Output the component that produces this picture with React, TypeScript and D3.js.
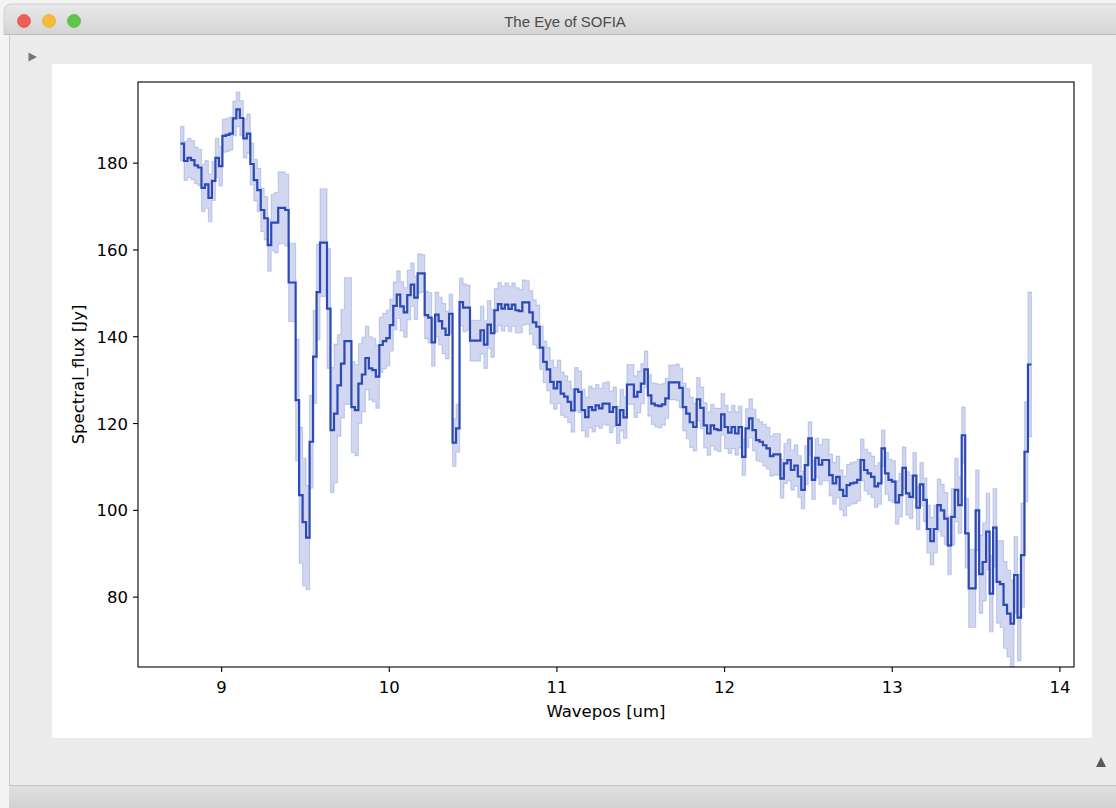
import React from 'react';
import * as d3 from 'd3';

const WAVE_START = 8.755;
const WAVE_STEP = 0.0208;

const FLUX = [
  184.5, 180.5, 181.2, 180.7, 179.5, 179.0, 174.3, 175.1, 172.0, 175.9,
  181.2, 179.3, 186.3, 186.5, 186.8, 190.3, 192.4, 190.4, 185.7, 186.8,
  179.8, 176.1, 173.8, 169.2, 167.3, 161.1, 166.3, 166.3, 169.7, 169.7,
  169.2, 152.5, 152.5, 125.4, 103.5, 97.3, 93.7, 115.8, 135.4, 150.3,
  161.7, 161.7, 146.5, 118.5, 122.3, 128.8, 133.8, 139.0, 139.0, 123.8,
  123.1, 129.2, 131.3, 135.1, 132.7, 132.3, 130.8, 138.1, 139.0, 139.7,
  142.7, 147.1, 149.7, 147.0, 145.6, 149.6, 152.0, 149.0, 154.6, 154.6,
  145.0, 144.4, 138.7, 145.1, 143.6, 141.9, 140.4, 145.3, 115.6, 118.9,
  148.0, 146.7, 146.7, 139.1, 139.1, 139.1, 141.5, 138.2, 142.8, 140.8,
  146.1, 147.5, 146.5, 147.4, 146.4, 147.4, 146.1, 145.9, 147.9, 147.9,
  145.6, 143.3, 142.3, 137.5, 134.2, 132.5, 129.6, 128.1, 129.6, 126.9,
  126.2, 125.0, 123.0, 127.9, 127.3, 123.1, 121.5, 123.8, 123.1, 124.2,
  123.5, 124.6, 124.6, 122.7, 123.8, 119.7, 123.1, 121.4, 129.0, 129.0,
  126.2, 127.3, 129.2, 132.5, 126.5, 124.6, 124.2, 124.0, 124.4, 125.8,
  129.5, 129.5, 129.5, 128.2, 123.8, 122.3, 120.3, 119.2, 125.6, 123.6,
  119.6, 117.7, 119.6, 118.7, 118.5, 122.1, 119.2, 117.9, 119.2, 117.7,
  119.2, 112.3, 118.9, 121.2, 118.5, 116.2, 115.8, 115.0, 114.3, 112.5,
  112.9, 112.9, 107.3, 110.8, 111.6, 109.3, 110.3, 107.8, 104.7, 110.4,
  116.6, 107.0, 112.1, 110.5, 111.6, 111.6, 108.1, 106.2, 107.7, 104.7,
  103.3, 105.8, 106.2, 106.4, 107.0, 111.6, 109.3, 108.5, 107.7, 105.5,
  106.2, 114.3, 108.5, 107.0, 106.6, 101.8, 103.5, 109.8, 103.9, 103.1,
  108.0, 100.6, 106.0, 102.4, 95.7, 92.9, 95.7, 101.2, 100.0, 98.1,
  91.9, 98.5, 104.7, 101.2, 117.3, 94.7, 82.0, 82.0, 100.0, 85.3,
  88.1, 95.1, 80.8, 96.0, 83.5, 83.0, 78.2, 76.2, 73.9, 85.1,
  75.3, 89.7, 113.5, 133.6,
];

const FLUX_ERR = [
  4.0, 4.5, 4.5, 4.5, 4.2, 4.2, 5.5, 5.5, 5.5, 4.5,
  4.5, 4.5, 3.8, 3.8, 3.8, 4.0, 4.0, 4.0, 4.5, 4.5,
  4.8, 4.8, 5.0, 5.0, 5.0, 6.0, 6.5, 7.0, 8.3, 8.3,
  8.3, 9.0, 9.0, 14.0, 15.7, 14.7, 12.0, 10.7, 10.7, 11.0,
  12.4, 12.4, 13.8, 14.4, 16.0, 11.7, 12.5, 14.6, 14.6, 10.5,
  10.5, 9.2, 8.6, 7.3, 7.3, 7.3, 7.3, 6.4, 6.4, 6.4,
  6.0, 5.5, 5.5, 5.7, 5.7, 5.7, 5.0, 5.0, 4.5, 4.3,
  5.5, 5.8, 5.5, 5.2, 5.5, 5.8, 5.5, 4.5, 5.5, 5.5,
  5.5, 5.5, 5.2, 4.7, 4.7, 4.7, 5.5, 5.5, 5.5, 5.5,
  5.0, 5.0, 5.2, 5.0, 5.2, 5.0, 5.2, 5.0, 5.2, 5.0,
  5.0, 5.2, 5.0, 5.0, 4.8, 5.0, 5.0, 4.8, 5.0, 5.0,
  4.8, 4.8, 5.0, 5.0, 4.8, 4.8, 4.6, 4.8, 5.0, 4.8,
  4.6, 4.8, 5.0, 4.8, 4.6, 4.3, 4.8, 4.8, 4.6, 4.6,
  4.8, 4.8, 4.6, 4.2, 4.8, 4.8, 5.0, 5.0, 4.8, 4.6,
  4.0, 4.0, 4.2, 4.6, 5.5, 5.8, 5.8, 5.5, 5.0, 4.8,
  5.2, 5.0, 4.8, 4.8, 5.0, 4.8, 5.0, 4.8, 5.0, 5.0,
  4.8, 4.2, 4.5, 4.5, 4.8, 4.8, 4.6, 4.8, 4.8, 4.6,
  4.8, 4.8, 4.5, 4.6, 4.8, 4.6, 4.8, 4.8, 4.3, 4.5,
  3.8, 4.5, 4.5, 4.6, 4.8, 4.8, 4.8, 4.8, 4.8, 4.6,
  4.6, 4.8, 4.8, 4.8, 4.8, 4.8, 4.8, 4.8, 4.8, 4.8,
  4.8, 4.2, 4.8, 4.8, 4.8, 5.0, 5.0, 4.8, 5.0, 5.0,
  5.3, 5.0, 5.0, 5.0, 5.5, 5.5, 5.5, 6.0, 6.0, 6.0,
  6.7, 6.5, 7.3, 6.5, 6.5, 8.0, 9.0, 9.0, 9.3, 9.0,
  9.0, 8.8, 8.8, 9.0, 9.5, 10.0, 10.0, 10.0, 10.0, 8.8,
  10.0, 12.0, 11.5, 16.7,
];

const X_TICKS = [9, 10, 11, 12, 13, 14];
const Y_TICKS = [80, 100, 120, 140, 160, 180];
const Y_DOMAIN = [63.9, 198.7];
const WINDOW_TITLE = 'The Eye of SOFIA';
const X_LABEL = 'Wavepos [um]';
const Y_LABEL = 'Spectral_flux [Jy]';

const LINE_COLOR = '#2d49b3';
const AXIS_FONT = '"DejaVu Sans", Verdana, sans-serif';
const UI_FONT = '"Liberation Sans", Arial, Helvetica, sans-serif';

type Row = { w: number; f: number; e: number };

export default function App() {
  const W = 1116;
  const H = 808;
  const plot = { left: 138, top: 82, right: 1074, bottom: 667 };

  const rows: Row[] = FLUX.map((f, i) => ({ w: WAVE_START + i * WAVE_STEP, f, e: FLUX_ERR[i] }));
  const wEnd = WAVE_START + FLUX.length * WAVE_STEP;
  const last = rows[rows.length - 1];
  const pts: Row[] = [...rows, { w: wEnd, f: last.f, e: last.e }];
  const span = wEnd - WAVE_START;

  const x = d3
    .scaleLinear()
    .domain([WAVE_START - 0.05 * span, wEnd + 0.05 * span])
    .range([plot.left, plot.right]);
  const y = d3.scaleLinear().domain(Y_DOMAIN).range([plot.bottom, plot.top]);

  const line = d3
    .line<Row>()
    .x((d) => x(d.w))
    .y((d) => y(d.f))
    .curve(d3.curveStepAfter);
  const area = d3
    .area<Row>()
    .x((d) => x(d.w))
    .y0((d) => y(d.f - d.e))
    .y1((d) => y(d.f + d.e))
    .curve(d3.curveStepAfter);

  const tickLen = 5;
  const fs = 16.5;

  return (
    <svg
      width={W}
      height={H}
      viewBox={`0 0 ${W} ${H}`}
      style={{ position: 'absolute', left: 0, top: 0, display: 'block' }}
    >
      <defs>
        <linearGradient id="titlebar" x1="0" y1="0" x2="0" y2="1">
          <stop offset="0" stopColor="#e9e9e9" />
          <stop offset="1" stopColor="#d4d4d4" />
        </linearGradient>
        <linearGradient id="statusbar" x1="0" y1="0" x2="0" y2="1">
          <stop offset="0" stopColor="#e0e0e0" />
          <stop offset="1" stopColor="#d2d2d2" />
        </linearGradient>
        <clipPath id="plotclip">
          <rect x={plot.left} y={plot.top} width={plot.right - plot.left} height={plot.bottom - plot.top} />
        </clipPath>
      </defs>

      {/* outside of window */}
      <rect x={0} y={0} width={W} height={H} fill="#f4f4f4" />
      {/* window body */}
      <rect x={9} y={30} width={W - 9} height={H - 30} fill="#ececec" />
      <line x1={9.5} y1={34} x2={9.5} y2={786} stroke="#c9c9c9" strokeWidth={1} />
      {/* title bar */}
      <path d={`M 4 35 L 4 12 Q 4 4 12 4 L ${W} 4 L ${W} 35 Z`} fill="url(#titlebar)" />
      <path d={`M 4 35 L 4 12 Q 4 4 12 4 L ${W} 4`} fill="none" stroke="#cfcfcf" strokeWidth={1} />
      <line x1={4} y1={34.5} x2={W} y2={34.5} stroke="#bdbdbd" strokeWidth={1} />
      <circle cx={24} cy={21} r={6.5} fill="#ee5e57" stroke="#d8463f" strokeWidth={0.6} />
      <circle cx={49} cy={21} r={6.5} fill="#f7bd32" stroke="#dba126" strokeWidth={0.6} />
      <circle cx={74} cy={21} r={6.5} fill="#5ec748" stroke="#45ad33" strokeWidth={0.6} />
      <text x={565} y={27} textAnchor="middle" fontFamily={UI_FONT} fontSize={15} fill="#4b4b4b">
        {WINDOW_TITLE}
      </text>

      {/* disclosure triangle */}
      <polygon points="28.5,52.5 37,57 28.5,61.5" fill="#777777" />

      {/* white figure panel */}
      <rect x={52} y={64} width={1040} height={674} fill="#ffffff" />

      {/* status bar */}
      <line x1={9} y1={785.5} x2={W} y2={785.5} stroke="#c4c4c4" strokeWidth={1} />
      <rect x={9} y={786} width={W - 9} height={H - 786} fill="url(#statusbar)" />
      <polygon points="1096,767 1106,767 1101,757" fill="#5a5a5a" />

      {/* data */}
      <g clipPath="url(#plotclip)">
        <path
          d={area(pts) || ''}
          fill="rgba(45,75,185,0.22)"
          stroke="rgba(45,75,185,0.2)"
          strokeWidth={1.2}
        />
        <path d={line(pts) || ''} fill="none" stroke={LINE_COLOR} strokeWidth={2.2} strokeLinejoin="miter" />
      </g>

      {/* axes frame */}
      <rect
        x={plot.left}
        y={plot.top}
        width={plot.right - plot.left}
        height={plot.bottom - plot.top}
        fill="none"
        stroke="#000"
        strokeWidth={1.1}
      />

      {/* x ticks */}
      {X_TICKS.map((t) => (
        <g key={`x${t}`}>
          <line x1={x(t)} x2={x(t)} y1={plot.bottom} y2={plot.bottom + tickLen} stroke="#000" strokeWidth={1.1} />
          <text x={x(t)} y={plot.bottom + tickLen + 21} textAnchor="middle" fontFamily={AXIS_FONT} fontSize={fs} fill="#000">
            {t}
          </text>
        </g>
      ))}

      {/* y ticks */}
      {Y_TICKS.map((t) => (
        <g key={`y${t}`}>
          <line x1={plot.left - tickLen} x2={plot.left} y1={y(t)} y2={y(t)} stroke="#000" strokeWidth={1.1} />
          <text x={plot.left - tickLen - 5} y={y(t) + 6} textAnchor="end" fontFamily={AXIS_FONT} fontSize={fs} fill="#000">
            {t}
          </text>
        </g>
      ))}

      <text x={(plot.left + plot.right) / 2} y={717} textAnchor="middle" fontFamily={AXIS_FONT} fontSize={fs} fill="#000">
        {X_LABEL}
      </text>
      <text
        transform={`translate(84, ${(plot.top + plot.bottom) / 2}) rotate(-90)`}
        textAnchor="middle"
        fontFamily={AXIS_FONT}
        fontSize={fs}
        fill="#000"
      >
        {Y_LABEL}
      </text>
    </svg>
  );
}
